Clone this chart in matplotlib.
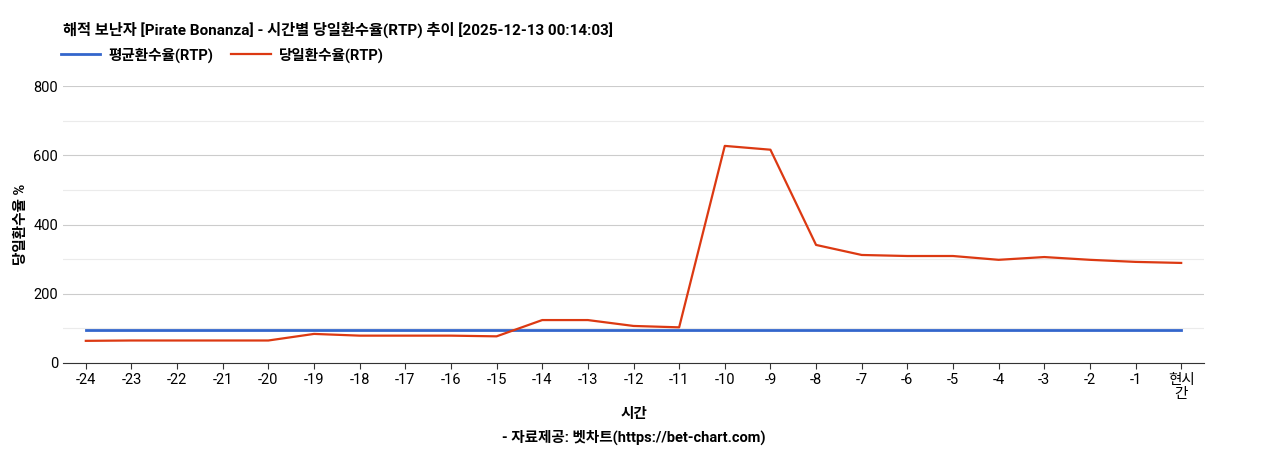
import matplotlib.pyplot as plt
import numpy as np

plt.rcParams["font.family"] = ["Roboto", "Noto Sans CJK KR", "DejaVu Sans"]

hours = ["-24", "-23", "-22", "-21", "-20", "-19", "-18", "-17", "-16", "-15", "-14", "-13",
         "-12", "-11", "-10", "-9", "-8", "-7", "-6", "-5", "-4", "-3", "-2", "-1", "현시\n간"]
daily_rtp = [64, 65, 65, 65, 65, 84, 79, 79, 79, 77, 124, 124,
             107, 103, 627, 616, 341, 312, 309, 309, 298, 306, 298, 292, 289]
avg_rtp = [95] * len(hours)

fig = plt.figure(figsize=(12.68, 4.5), dpi=100)
ax = fig.add_axes([63 / 1268, 1 - 363 / 450, (1204 - 63) / 1268, (363 - 86) / 450])

x = np.arange(len(hours))
ax.plot(x, avg_rtp, color="#3366cc", lw=2, label="평균환수율(RTP)")
ax.plot(x, daily_rtp, color="#dc3912", lw=1.6, label="당일환수율(RTP)")

ax.set_xlim(-0.5, len(hours) - 0.5)
ax.set_ylim(0, 800)
ax.set_yticks([0, 200, 400, 600, 800])
ax.set_yticks([100, 300, 500, 700], minor=True)
ax.grid(True, which="major", axis="y", color="#cccccc", lw=0.8)
ax.grid(True, which="minor", axis="y", color="#ebebeb", lw=0.8)
ax.tick_params(axis="y", which="both", length=0, labelsize=10.5)
ax.tick_params(axis="x", length=4, labelsize=10.5, color="#333333")
ax.set_xticks(x)
ax.set_xticklabels(hours, linespacing=1.0)
for s in ("top", "right", "left"):
    ax.spines[s].set_visible(False)
ax.spines["bottom"].set_color("#333333")
ax.set_axisbelow(True)

ax.set_ylabel("당일환수율 %", fontsize=10.5, fontweight="bold")
ax.set_xlabel("시간", fontsize=10.5, fontweight="bold", labelpad=4)
fig.text(0.5, 1 - 437 / 450, "- 자료제공: 벳차트(https://bet-chart.com)", ha="center", va="center",
         fontsize=10.5, fontweight="bold")
fig.text(63 / 1268, 1 - 30 / 450, "해적 보난자 [Pirate Bonanza] - 시간별 당일환수율(RTP) 추이 [2025-12-13 00:14:03]",
         ha="left", va="center", fontsize=11, fontweight="bold")
ax.legend(loc="center left", bbox_to_anchor=(-0.002, 1 + 31 / 277), ncol=2, frameon=False,
          prop={"weight": "bold", "size": 10.5}, handlelength=2.7, borderaxespad=0,
          borderpad=0, columnspacing=1.2, handletextpad=0.6)

fig.savefig("out.png", dpi=100)
